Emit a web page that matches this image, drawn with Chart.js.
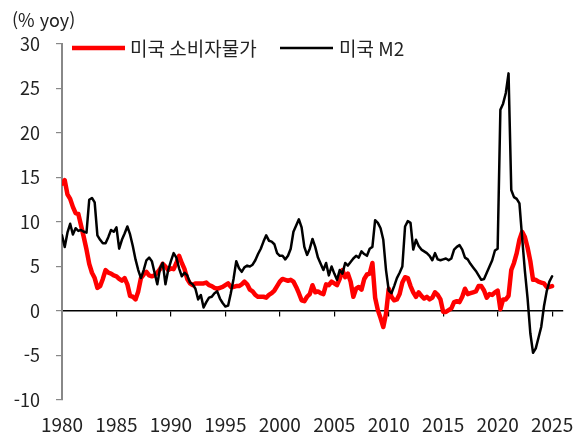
<!DOCTYPE html>
<html lang="ko">
<head>
<meta charset="utf-8">
<script src="https://cdn.jsdelivr.net/npm/chart.js@4.4.1/dist/chart.umd.min.js"></script>
<style>
  html, body { margin: 0; padding: 0; background: #fff; }
  #wrap { position: relative; width: 582px; height: 434px; }
</style>
</head>
<body>
<div id="wrap"><canvas id="chart" width="582" height="434"></canvas></div>
<script>
// US CPI vs US M2, % yoy, quarterly from 1980 Q1
const START_YEAR = 1980;
const STEP = 0.25;

const cpiValues = [
  14.3, 14.7, 13.1, 12.6,   11.7, 11.0, 10.9, 9.6,   8.3, 6.9, 5.3, 4.3,   3.7, 2.6, 2.8, 3.6,
  4.6, 4.3, 4.2, 4.0,       3.9, 3.6, 3.4, 3.7,      3.0, 1.7, 1.6, 1.3,   2.2, 3.7, 4.1, 4.4,
  4.0, 3.9, 4.0, 4.3,       4.7, 5.3, 5.0, 4.6,      4.8, 4.7, 5.4, 6.2,   5.4, 4.7, 3.6, 3.1,
  2.9, 3.1, 3.1, 3.1,       3.1, 3.2, 2.9, 2.8,      2.6, 2.5, 2.6, 2.7,   2.9, 3.1, 2.7, 2.7,
  2.8, 2.8, 3.0, 3.3,       3.0, 2.4, 2.2, 1.8,      1.6, 1.6, 1.6, 1.5,   1.8, 2.0, 2.3, 2.8,
  3.3, 3.6, 3.5, 3.4,       3.5, 3.3, 2.7, 2.0,      1.2, 1.1, 1.6, 1.9,   2.9, 2.1, 2.2, 2.0,
  1.9, 3.0, 2.9, 3.3,       3.1, 2.9, 3.6, 4.6,      3.8, 4.2, 3.3, 1.6,   2.5, 2.7, 2.4, 3.6,
  4.1, 4.2, 5.4, 1.5,       0.1, -0.8, -1.8, -0.3,   2.5, 1.6, 1.2, 1.3,   1.9, 3.2, 3.8, 3.7,
  2.8, 2.1, 1.6, 2.1,       1.7, 1.4, 1.6, 1.3,      1.5, 2.1, 1.8, 1.3,   -0.1, -0.1, 0.1, 0.3,
  1.0, 1.1, 1.0, 1.6,       2.5, 1.9, 2.0, 2.1,      2.2, 2.8, 2.8, 2.3,   1.5, 1.9, 1.8, 2.1,
  2.3, 0.2, 1.3, 1.3,       1.7, 4.6, 5.4, 6.5,      8.0, 8.9, 8.3, 7.1,   5.6, 3.5, 3.5, 3.3,
  3.2, 3.1, 2.7, 2.7,       2.8
];

const m2Values = [
  8.5, 7.2, 8.8, 9.8,       8.6, 9.3, 9.0, 9.1,      8.9, 8.8, 12.5, 12.7, 12.2, 8.5, 8.0, 7.6,
  7.6, 8.3, 9.1, 8.9,       9.4, 7.0, 8.0, 8.7,      9.5, 8.6, 7.3, 5.8,   4.6, 3.7, 4.6, 5.7,
  6.0, 5.6, 4.3, 3.0,       4.8, 5.4, 3.0, 4.6,      5.6, 6.5, 6.0, 4.8,   3.9, 4.3, 4.0, 3.2,
  3.0, 2.5, 1.3, 1.8,       0.4, 1.0, 1.5, 1.6,      2.0, 2.2, 1.4, 0.9,   0.5, 0.6, 2.0, 3.6,
  5.6, 4.8, 4.4, 4.9,       5.1, 5.0, 5.2, 5.7,      6.4, 7.0, 7.8, 8.5,   7.9, 7.8, 7.5, 6.5,
  6.2, 6.2, 5.8, 6.2,       7.0, 8.9, 9.6, 10.3,     9.4, 7.2, 6.3, 7.0,   8.1, 7.2, 6.0, 5.3,
  4.6, 5.4, 4.0, 5.0,       4.2, 3.5, 4.6, 4.2,      5.4, 5.1, 5.5, 5.9,   6.2, 6.0, 6.7, 6.4,
  6.2, 7.0, 7.2, 10.2,      9.9, 9.3, 8.0, 4.6,      2.3, 2.0, 2.8, 3.7,   4.3, 5.0, 9.5, 10.1,
  9.9, 6.9, 8.0, 7.3,       6.9, 6.7, 6.5, 6.2,      5.7, 6.5, 5.8, 5.7,   5.8, 5.9, 5.7, 5.9,
  6.9, 7.2, 7.4, 6.9,       6.0, 5.8, 5.3, 4.9,      4.5, 4.0, 3.5, 3.6,   4.3, 5.0, 5.7, 6.8,
  7.0, 22.6, 23.3, 24.5,    26.7, 13.6, 12.8, 12.6,  12.1, 8.2, 4.5, 1.4,  -2.5, -4.7, -4.2, -3.0,
  -1.8, 0.5, 2.2, 3.3,      3.9
];

const xTickYears = [1980, 1985, 1990, 1995, 2000, 2005, 2010, 2015, 2020, 2025];
const yTickValues = [-10, -5, 0, 5, 10, 15, 20, 25, 30];

const SERIES_NAMES = ['미국 소비자물가', '미국 M2'];
const UNIT_LABEL = '(% yoy)';

const FONT = '"Noto Sans CJK KR", "Noto Sans", sans-serif';
const TEXT_COLOR = '#222';

const toPoints = (vals) => vals.map((v, i) => ({ x: START_YEAR + i * STEP, y: v }));

// legend row and unit label, drawn inside the plot
const headerPlugin = {
  id: 'header',
  afterDraw(chart) {
    const ctx = chart.ctx;
    ctx.save();
    ctx.fillStyle = TEXT_COLOR;
    ctx.textBaseline = 'middle';
    ctx.textAlign = 'left';
    ctx.font = `18px ${FONT}`;
    ctx.fillText(UNIT_LABEL, 12, 20);

    ctx.font = `19px ${FONT}`;
    const items = [
      { ds: chart.data.datasets[0], x0: 72, x1: 125, tx: 130 },
      { ds: chart.data.datasets[1], x0: 280, x1: 333, tx: 339 },
    ];
    const y = 48;
    items.forEach((it) => {
      ctx.strokeStyle = it.ds.borderColor;
      ctx.lineWidth = it.ds.borderWidth;
      ctx.lineCap = 'butt';
      ctx.beginPath();
      ctx.moveTo(it.x0, y);
      ctx.lineTo(it.x1, y);
      ctx.stroke();
      ctx.fillText(it.ds.label, it.tx, y + 1);
    });
    ctx.restore();
  },
};

new Chart(document.getElementById('chart'), {
  type: 'line',
  data: {
    datasets: [
      {
        label: SERIES_NAMES[0],
        data: toPoints(cpiValues),
        borderColor: '#ff0000',
        borderWidth: 4.5,
        order: 1,
      },
      {
        label: SERIES_NAMES[1],
        data: toPoints(m2Values),
        borderColor: '#000000',
        borderWidth: 2.5,
        order: 0,
      },
    ],
  },
  options: {
    responsive: false,
    animation: false,
    layout: { padding: { top: 44, right: 19, bottom: 0, left: 0 } },
    elements: {
      point: { radius: 0 },
      line: { tension: 0, borderJoinStyle: 'round', borderCapStyle: 'round' },
    },
    plugins: {
      legend: { display: false },
      tooltip: { enabled: false },
    },
    scales: {
      // zero line with year tick marks
      x: {
        type: 'linear',
        position: { y: 0 },
        min: 1980,
        max: 2026,
        afterBuildTicks: (s) => { s.ticks = xTickYears.map((v) => ({ value: v })); },
        ticks: { display: false },
        grid: { drawOnChartArea: false, drawTicks: true, tickLength: 5, color: '#000', lineWidth: 1.2 },
        border: { display: true, color: '#000', width: 1.5 },
      },
      // year labels along the bottom
      xb: {
        type: 'linear',
        position: 'bottom',
        min: 1980,
        max: 2026,
        afterBuildTicks: (s) => { s.ticks = xTickYears.map((v) => ({ value: v })); },
        afterFit: (s) => { s.height = 34; },
        ticks: {
          maxRotation: 0,
          autoSkip: false,
          padding: 5,
          color: TEXT_COLOR,
          font: { family: FONT, size: 19 },
          callback: (v) => String(v),
        },
        grid: { display: false },
        border: { display: false },
      },
      y: {
        type: 'linear',
        position: 'left',
        min: -10,
        max: 30,
        afterBuildTicks: (s) => { s.ticks = yTickValues.map((v) => ({ value: v })); },
        afterFit: (s) => { s.width = 62; },
        ticks: {
          padding: 16,
          color: TEXT_COLOR,
          font: { family: FONT, size: 18 },
          callback: (v) => String(v),
        },
        grid: { drawOnChartArea: false, drawTicks: true, tickLength: 6, color: '#888', lineWidth: 1.2 },
        border: { display: true, color: '#888', width: 2 },
      },
    },
  },
  plugins: [headerPlugin],
});
</script>
</body>
</html>
